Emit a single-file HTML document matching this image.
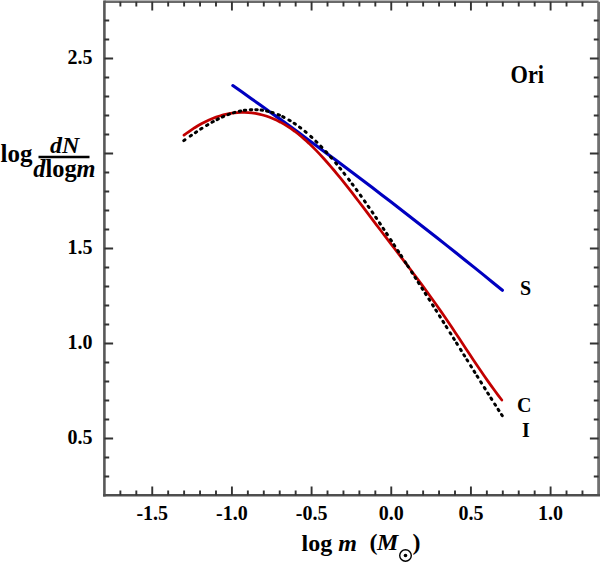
<!DOCTYPE html>
<html><head><meta charset="utf-8"><style>
html,body{margin:0;padding:0;background:#fff;width:600px;height:563px;overflow:hidden}
svg{display:block}
text{font-family:"Liberation Serif",serif;font-weight:bold;fill:#000}
</style></head><body>
<svg width="600" height="563" viewBox="0 0 600 563">
<path d="M104.4,1.7 H598.6" stroke="#6a6a6a" stroke-width="2.6" fill="none"/>
<path d="M598.6,1.7 V495.3" stroke="#707070" stroke-width="2.8" fill="none"/>
<path d="M104.4,0.3999999999999999 V496.6" stroke="#585858" stroke-width="2.6" fill="none"/>
<path d="M103.10000000000001,495.3 H600.0" stroke="#4e4e4e" stroke-width="2.6" fill="none"/>
<path d="M120.38,495.3 V490.5 M120.38,1.7 V6.5 M136.32,495.3 V490.5 M136.32,1.7 V6.5 M152.25,495.3 V486.6 M152.25,1.7 V10.399999999999999 M168.18,495.3 V490.5 M168.18,1.7 V6.5 M184.12,495.3 V490.5 M184.12,1.7 V6.5 M200.05,495.3 V490.5 M200.05,1.7 V6.5 M215.99,495.3 V490.5 M215.99,1.7 V6.5 M231.92,495.3 V486.6 M231.92,1.7 V10.399999999999999 M247.85,495.3 V490.5 M247.85,1.7 V6.5 M263.79,495.3 V490.5 M263.79,1.7 V6.5 M279.72,495.3 V490.5 M279.72,1.7 V6.5 M295.66,495.3 V490.5 M295.66,1.7 V6.5 M311.59,495.3 V486.6 M311.59,1.7 V10.399999999999999 M327.52,495.3 V490.5 M327.52,1.7 V6.5 M343.46,495.3 V490.5 M343.46,1.7 V6.5 M359.39,495.3 V490.5 M359.39,1.7 V6.5 M375.33,495.3 V490.5 M375.33,1.7 V6.5 M391.26,495.3 V486.6 M391.26,1.7 V10.399999999999999 M407.19,495.3 V490.5 M407.19,1.7 V6.5 M423.13,495.3 V490.5 M423.13,1.7 V6.5 M439.06,495.3 V490.5 M439.06,1.7 V6.5 M455.00,495.3 V490.5 M455.00,1.7 V6.5 M470.93,495.3 V486.6 M470.93,1.7 V10.399999999999999 M486.86,495.3 V490.5 M486.86,1.7 V6.5 M502.80,495.3 V490.5 M502.80,1.7 V6.5 M518.73,495.3 V490.5 M518.73,1.7 V6.5 M534.67,495.3 V490.5 M534.67,1.7 V6.5 M550.60,495.3 V486.6 M550.60,1.7 V10.399999999999999 M566.53,495.3 V490.5 M566.53,1.7 V6.5 M582.47,495.3 V490.5 M582.47,1.7 V6.5 M104.4,476.50 H109.2 M598.6,476.50 H593.8000000000001 M104.4,457.50 H109.2 M598.6,457.50 H593.8000000000001 M104.4,438.50 H113.10000000000001 M598.6,438.50 H589.9 M104.4,419.50 H109.2 M598.6,419.50 H593.8000000000001 M104.4,400.50 H109.2 M598.6,400.50 H593.8000000000001 M104.4,381.50 H109.2 M598.6,381.50 H593.8000000000001 M104.4,362.50 H109.2 M598.6,362.50 H593.8000000000001 M104.4,343.50 H113.10000000000001 M598.6,343.50 H589.9 M104.4,324.50 H109.2 M598.6,324.50 H593.8000000000001 M104.4,305.50 H109.2 M598.6,305.50 H593.8000000000001 M104.4,286.50 H109.2 M598.6,286.50 H593.8000000000001 M104.4,267.50 H109.2 M598.6,267.50 H593.8000000000001 M104.4,248.50 H113.10000000000001 M598.6,248.50 H589.9 M104.4,229.50 H109.2 M598.6,229.50 H593.8000000000001 M104.4,210.50 H109.2 M598.6,210.50 H593.8000000000001 M104.4,191.50 H109.2 M598.6,191.50 H593.8000000000001 M104.4,172.50 H109.2 M598.6,172.50 H593.8000000000001 M104.4,153.50 H113.10000000000001 M598.6,153.50 H589.9 M104.4,134.50 H109.2 M598.6,134.50 H593.8000000000001 M104.4,115.50 H109.2 M598.6,115.50 H593.8000000000001 M104.4,96.50 H109.2 M598.6,96.50 H593.8000000000001 M104.4,77.50 H109.2 M598.6,77.50 H593.8000000000001 M104.4,58.50 H113.10000000000001 M598.6,58.50 H589.9 M104.4,39.50 H109.2 M598.6,39.50 H593.8000000000001 M104.4,20.50 H109.2 M598.6,20.50 H593.8000000000001" stroke="#333" stroke-width="1.9" fill="none"/>
<g font-size="20"><text x="152.25" y="520" text-anchor="middle">-1.5</text><text x="231.92" y="520" text-anchor="middle">-1.0</text><text x="311.59" y="520" text-anchor="middle">-0.5</text><text x="391.26" y="520" text-anchor="middle">0.0</text><text x="470.93" y="520" text-anchor="middle">0.5</text><text x="550.60" y="520" text-anchor="middle">1.0</text><text x="92.5" y="63.50" text-anchor="end">2.5</text><text x="92.5" y="253.50" text-anchor="end">1.5</text><text x="92.5" y="348.50" text-anchor="end">1.0</text><text x="92.5" y="443.50" text-anchor="end">0.5</text></g>
<path d="M232.80,85.55 L242.10,92.09 L251.39,98.67 L260.69,105.29 L269.99,111.94 L279.28,118.63 L288.58,125.36 L297.88,132.12 L307.17,138.92 L316.47,145.76 L325.77,152.64 L335.06,159.55 L344.36,166.50 L353.66,173.48 L362.95,180.50 L372.25,187.56 L381.54,194.66 L390.84,201.79 L400.14,208.96 L409.43,216.17 L418.73,223.42 L428.03,230.70 L437.32,238.02 L446.62,245.37 L455.92,252.76 L465.21,260.19 L474.51,267.66 L483.81,275.16 L493.10,282.70 L502.40,290.28" stroke="#0000c0" stroke-width="3.1" stroke-linecap="round" fill="none"/>
<path d="M184.00,135.13 L187.57,132.51 L191.14,130.03 L194.71,127.71 L198.28,125.55 L201.85,123.55 L205.42,121.71 L209.00,120.02 L212.57,118.51 L216.14,117.15 L219.71,115.96 L223.28,114.93 L226.85,114.08 L230.42,113.39 L233.99,112.87 L237.56,112.52 L241.13,112.35 L244.70,112.34 L248.27,112.52 L251.84,112.87 L255.42,113.39 L258.99,114.10 L262.56,114.99 L266.13,116.05 L269.70,117.30 L273.27,118.74 L276.84,120.36 L280.41,122.16 L283.98,124.16 L287.55,126.34 L291.12,128.71 L294.69,131.27 L298.27,134.03 L301.84,136.97 L305.41,140.09 L308.98,143.37 L312.55,146.81 L316.12,150.40 L319.69,154.12 L323.26,157.98 L326.83,161.96 L330.40,166.05 L333.97,170.24 L337.54,174.53 L341.11,178.90 L344.69,183.35 L348.26,187.87 L351.83,192.44 L355.40,197.07 L358.97,201.73 L362.54,206.42 L366.11,211.14 L369.68,215.86 L373.25,220.60 L376.82,225.32 L380.39,230.03 L383.96,234.73 L387.53,239.41 L391.11,244.08 L394.68,248.75 L398.25,253.42 L401.82,258.10 L405.39,262.80 L408.96,267.51 L412.53,272.25 L416.10,277.01 L419.67,281.81 L423.24,286.64 L426.81,291.53 L430.38,296.46 L433.96,301.44 L437.53,306.48 L441.10,311.59 L444.67,316.77 L448.24,322.02 L451.81,327.34 L455.38,332.71 L458.95,338.11 L462.52,343.52 L466.09,348.93 L469.66,354.33 L473.23,359.70 L476.80,365.02 L480.38,370.29 L483.95,375.49 L487.52,380.61 L491.09,385.63 L494.66,390.56 L498.23,395.36 L501.80,400.04" stroke="#c20000" stroke-width="2.75" stroke-linecap="round" stroke-linejoin="round" fill="none"/>
<path d="M183.79,140.64 L185.01,139.77 M190.24,136.12 L191.47,135.27 M195.35,132.63 L196.60,131.79 M200.71,129.09 L201.97,128.28 M206.55,125.44 L207.83,124.66 M211.98,122.27 L213.29,121.55 M217.03,119.57 L218.37,118.90 M222.33,117.03 L223.70,116.43 M228.04,114.67 L229.44,114.15 M233.38,112.83 L234.82,112.40 M239.29,111.26 L240.75,110.95 M244.25,110.34 L245.73,110.14 M250.24,109.73 L251.74,109.67 M255.78,109.68 L257.28,109.76 M261.09,110.11 L262.57,110.31 M266.59,111.04 L268.05,111.37 M271.68,112.35 L273.11,112.80 M278.09,114.63 L279.47,115.21 M282.67,116.67 L284.02,117.34 M288.91,120.00 L290.20,120.77 M294.07,123.23 L295.31,124.07 M299.51,127.07 L300.70,127.98 M305.01,131.41 L306.16,132.38 M310.73,136.39 L311.84,137.40 M315.84,141.20 L316.91,142.25 M320.81,146.21 L321.85,147.30 M325.78,151.52 L326.79,152.63 M330.60,156.94 L331.58,158.07 M335.67,162.89 L336.62,164.05 M339.83,167.98 L340.77,169.15 M343.92,173.12 L344.84,174.31 M348.60,179.20 L349.51,180.39 M352.21,183.99 L353.11,185.20 M356.23,189.44 L357.11,190.65 M360.37,195.17 L361.24,196.39 M364.44,200.90 L365.30,202.12 M368.17,206.24 L369.03,207.47 M372.09,211.91 L372.94,213.14 M375.71,217.21 L376.55,218.45 M379.53,222.86 L380.36,224.11 M383.12,228.22 L383.95,229.47 M386.56,233.40 L387.39,234.65 M390.62,239.55 L391.44,240.80 M393.99,244.70 L394.81,245.95 M397.81,250.55 L398.63,251.81 M400.96,255.40 L401.77,256.65 M405.20,261.95 L406.01,263.21 M407.63,265.72 L408.44,266.99 M411.59,271.89 L412.40,273.16 M415.00,277.21 L415.80,278.48 M418.26,282.32 L419.06,283.59 M421.93,288.08 L422.73,289.34 M425.27,293.34 L426.07,294.60 M428.89,299.04 L429.69,300.31 M432.54,304.81 L433.34,306.08 M435.83,310.03 L436.63,311.30 M439.48,315.82 L440.28,317.09 M442.97,321.37 L443.77,322.64 M446.17,326.45 L446.97,327.73 M450.11,332.75 L450.91,334.02 M453.51,338.17 L454.30,339.44 M456.57,343.07 L457.36,344.34 M460.47,349.32 L461.26,350.59 M463.84,354.73 L464.63,356.00 M466.95,359.73 L467.75,361.00 M470.67,365.70 L471.46,366.97 M474.06,371.15 L474.85,372.42 M477.11,376.04 L477.90,377.31 M480.71,381.81 L481.51,383.08 M484.36,387.64 L485.16,388.91 M487.73,393.01 L488.53,394.28 M490.96,398.12 L491.76,399.38 M494.72,404.03 L495.53,405.29 M498.13,409.33 L498.94,410.59 M501.50,414.52 L502.32,415.77" stroke="#000" stroke-width="3.0" stroke-linecap="round"  fill="none"/>
<text transform="translate(510.5,82.6) scale(0.86,1)" font-size="26">Ori</text>
<text x="520" y="295.4" font-size="20">S</text>
<text x="517" y="412" font-size="20">C</text>
<text x="522" y="436.6" font-size="20">I</text>
<text x="0.5" y="162" font-size="25">log</text>
<text x="50" y="152.5" font-size="24" font-style="italic">dN</text>
<path d="M38.5,157 H89.5" stroke="#000" stroke-width="2.4"/>
<text transform="translate(33.3,177.4) scale(0.975,1)" font-size="25"><tspan font-style="italic">d</tspan>log<tspan font-style="italic">m</tspan></text>
<text x="301.5" y="550.6" font-size="24">log <tspan font-style="italic">m</tspan></text>
<text x="369.5" y="550" font-size="24">(</text><text x="377" y="550" font-size="24" font-style="italic">M</text>
<text x="412.5" y="550" font-size="24">)</text>
<circle cx="405.5" cy="555.5" r="5.8" fill="none" stroke="#000" stroke-width="1.4"/>
<circle cx="405.5" cy="555.5" r="1.8" fill="#000"/>
</svg>
</body></html>
